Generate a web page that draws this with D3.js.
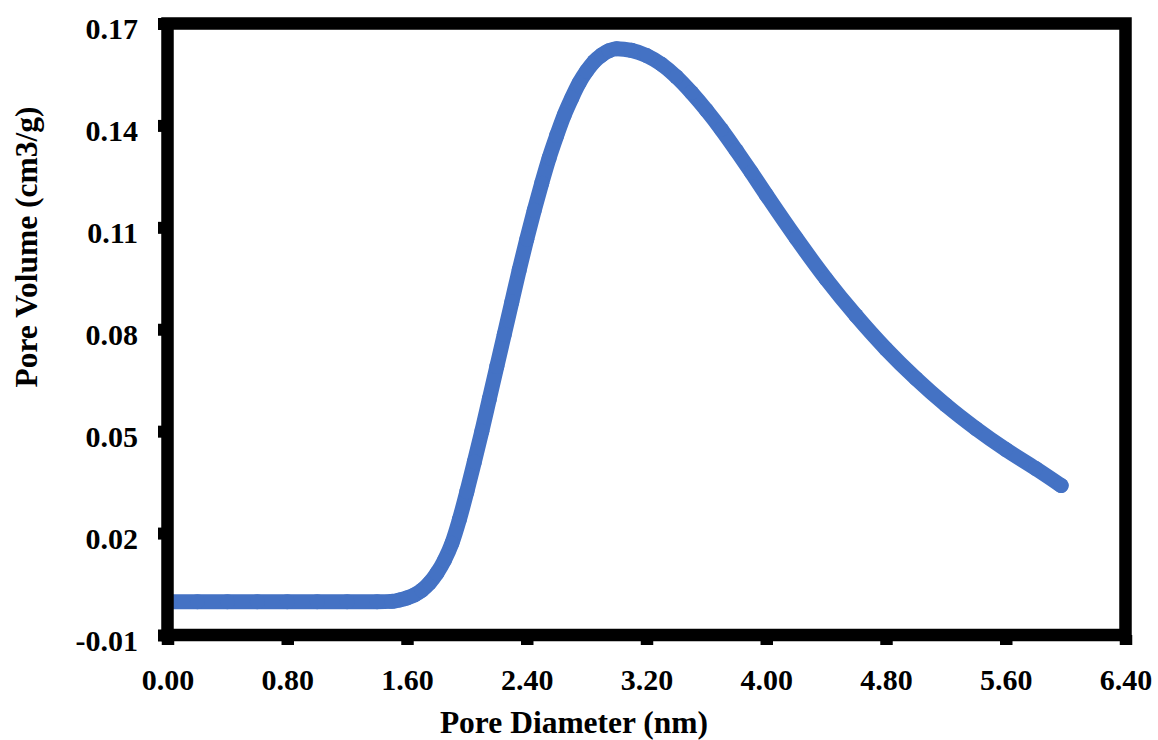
<!DOCTYPE html>
<html>
<head>
<meta charset="utf-8">
<script src="https://cdn.jsdelivr.net/npm/d3@7"></script>
<style>
  html, body { margin: 0; padding: 0; background: #fff; }
  svg { display: block; }
  text { font-family: "Liberation Serif", "Times New Roman", serif; font-weight: bold; fill: #000; }
</style>
</head>
<body>
<svg id="chart" width="1158" height="740"></svg>
<script>
// ---- data ----
const xTickValues = [0.00, 0.80, 1.60, 2.40, 3.20, 4.00, 4.80, 5.60, 6.40];
const yTickValues = [-0.01, 0.02, 0.05, 0.08, 0.11, 0.14, 0.17];
const xTitle = "Pore Diameter (nm)";
const yTitle = "Pore Volume (cm3/g)";

const poreDiameter = [
  0.02, 0.20, 0.40, 0.60, 0.80, 1.00, 1.20, 1.40, 1.50, 1.55,
  1.60, 1.65, 1.70, 1.75, 1.80, 1.85, 1.90, 1.95, 2.00, 2.05,
  2.10, 2.15, 2.20, 2.25, 2.30, 2.35, 2.40, 2.45, 2.50, 2.55,
  2.60, 2.65, 2.70, 2.75, 2.80, 2.85, 2.90, 2.95, 3.00, 3.10,
  3.20, 3.30, 3.40, 3.50, 3.60, 3.70, 3.80, 3.90, 4.00, 4.20,
  4.40, 4.60, 4.80, 5.00, 5.20, 5.40, 5.60, 5.80, 5.97
];
const poreVolume = [
  -0.0002, -0.0002, -0.0002, -0.0002, -0.0002, -0.0002, -0.0002, -0.0002, -0.0001, 0.0003,
  0.0009, 0.0018, 0.0032, 0.0053, 0.0082, 0.0120, 0.0170, 0.0240, 0.0322, 0.0410,
  0.0500, 0.0595, 0.0690, 0.0785, 0.0880, 0.0975, 0.1065, 0.1150, 0.1230, 0.1305,
  0.1370, 0.1430, 0.1480, 0.1525, 0.1560, 0.1588, 0.1607, 0.1620, 0.1626, 0.1621,
  0.1606, 0.1580, 0.1543, 0.1497, 0.1445, 0.1388, 0.1326, 0.1262, 0.1196, 0.1068,
  0.0948, 0.0840, 0.0742, 0.0655, 0.0577, 0.0508, 0.0446, 0.0390, 0.0340
];

// ---- layout ----
const plot = { left: 167.5, right: 1125.5, top: 23.5, bottom: 635 };
const frameWidth = 12.5;
const color = "#4472C4";

const svg = d3.select("#chart");

const x = d3.scaleLinear().domain([0, 6.4]).range([plot.left, plot.right]);
const y = d3.scaleLinear().domain([-0.01, 0.17]).range([plot.bottom, plot.top]);

const pts = poreDiameter.map((d, i) => [d, poreVolume[i]]);

// series: dense circular markers joined into a band
const line = d3.line().x(d => x(d[0])).y(d => y(d[1])).curve(d3.curveMonotoneX);
svg.append("path")
  .datum(pts)
  .attr("d", line)
  .attr("fill", "none")
  .attr("stroke", color)
  .attr("stroke-width", 15)
  .attr("stroke-linecap", "round")
  .attr("stroke-linejoin", "round");

svg.append("g").selectAll("circle")
  .data(pts)
  .join("circle")
  .attr("cx", d => x(d[0]))
  .attr("cy", d => y(d[1]))
  .attr("r", 7.5)
  .attr("fill", color);

// frame (plot area border)
svg.append("rect")
  .attr("x", plot.left).attr("y", plot.top)
  .attr("width", plot.right - plot.left)
  .attr("height", plot.bottom - plot.top)
  .attr("fill", "none")
  .attr("stroke", "#000")
  .attr("stroke-width", frameWidth);

// x axis via d3 axis
const xAxis = d3.axisBottom(x)
  .tickValues(xTickValues)
  .tickFormat(d => d.toFixed(2))
  .tickSize(10)
  .tickPadding(24);
const gx = svg.append("g").attr("transform", `translate(0,${plot.bottom})`).call(xAxis);
gx.select(".domain").remove();
gx.selectAll(".tick line").attr("stroke", "#000").attr("stroke-width", 12.5);
gx.selectAll(".tick text")
  .attr("font-family", "Liberation Serif, Times New Roman, serif")
  .attr("font-weight", "bold")
  .attr("font-size", 30)
  .attr("fill", "#000");

// y axis via d3 axis
const yAxis = d3.axisLeft(y)
  .tickValues(yTickValues)
  .tickFormat(d => d.toFixed(2))
  .tickSize(9.5)
  .tickPadding(20);
const gy = svg.append("g").attr("transform", `translate(${plot.left},0)`).call(yAxis);
gy.select(".domain").remove();
gy.selectAll(".tick line").attr("stroke", "#000").attr("stroke-width", 12);
gy.selectAll(".tick text")
  .attr("font-family", "Liberation Serif, Times New Roman, serif")
  .attr("font-weight", "bold")
  .attr("font-size", 30)
  .attr("fill", "#000")
  .attr("dy", "0.5em");

// axis titles
svg.append("text")
  .attr("x", 574).attr("y", 733)
  .attr("text-anchor", "middle")
  .attr("font-size", 31.5)
  .text(xTitle);

svg.append("text")
  .attr("transform", "translate(37,247) rotate(-90)")
  .attr("text-anchor", "middle")
  .attr("font-size", 31.5)
  .text(yTitle);
</script>
</body>
</html>
